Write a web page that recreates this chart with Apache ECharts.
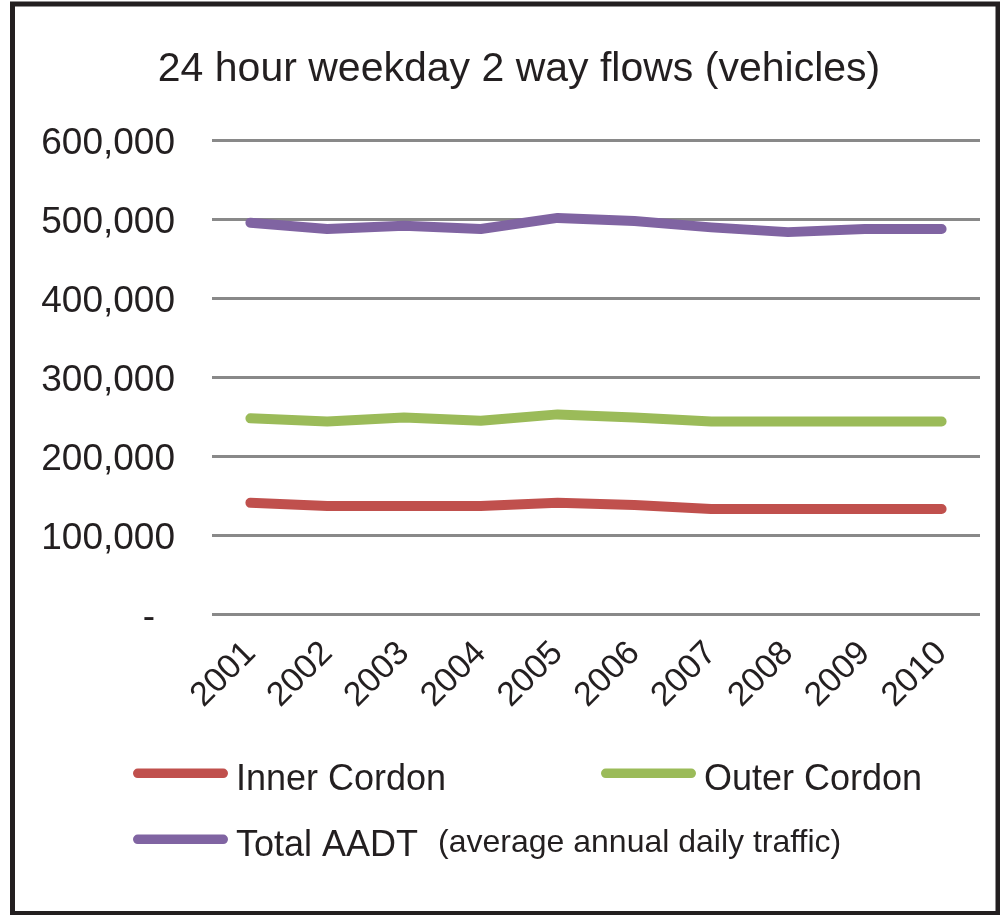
<!DOCTYPE html>
<html>
<head>
<meta charset="utf-8">
<script src="https://cdn.jsdelivr.net/npm/echarts@6/dist/echarts.min.js"></script>
<style>
  html, body { margin: 0; padding: 0; background: #fff; }
  #chart { width: 1000px; height: 915px; }
</style>
</head>
<body>
<div id="chart"></div>
<script>
// 年份与三条流量序列
var years = ['2001', '2002', '2003', '2004', '2005', '2006', '2007', '2008', '2009', '2010'];
var innerCordon = [141000, 137000, 137000, 137000, 141000, 138000, 133000, 133000, 133000, 133000];
var outerCordon = [248000, 244000, 249000, 245000, 253000, 249000, 244000, 244000, 244000, 244000];
var totalAADT = [496000, 488000, 492000, 488000, 502000, 498000, 490000, 484000, 488000, 488000];
var yTicks = [0, 100000, 200000, 300000, 400000, 500000, 600000];

var FONT = "'Liberation Sans', Arial, sans-serif";
var INK = '#231f20';

var chart = echarts.init(document.getElementById('chart'));

// 图例线条：上方 10px 圆头线，下方留空让线条比文字中心略高
var LEGEND_ICON = 'path://M5,0 H95 A5,5 0 0 1 95,10 H5 A5,5 0 0 1 5,0 Z M50,23.9 L50,24';

function legendBox(name, left, top, formatter) {
    return {
        data: [name],
        left: left,
        top: top,
        orient: 'horizontal',
        icon: LEGEND_ICON,
        itemWidth: 95,
        itemHeight: 24,
        selectedMode: false,
        formatter: formatter,
        textStyle: {
            fontFamily: FONT,
            fontSize: 36,
            color: INK,
            padding: [0, 0, 0, 3],
            rich: {
                small: { fontFamily: FONT, fontSize: 32, color: INK, padding: [0, 0, 6, 0] }
            }
        }
    };
}

var option = {
    backgroundColor: '#fff',
    animation: false,
    title: {
        text: '24 hour weekday 2 way flows (vehicles)',
        left: 514,
        top: 44,
        textAlign: 'center',
        textStyle: { fontFamily: FONT, fontSize: 41, fontWeight: 'normal', color: INK }
    },
    graphic: [{
        type: 'rect',
        shape: { x: 12.5, y: 4, width: 985.5, height: 909.5 },
        style: { fill: 'none', stroke: INK, lineWidth: 5 },
        silent: true
    }],
    legend: [
        legendBox('Inner Cordon', 128, 757),
        legendBox('Outer Cordon', 596, 757),
        legendBox('Total AADT', 128, 822, function (n) {
            return n + '  {small|(average annual daily traffic)}';
        })
    ],
    grid: { left: 212, right: 20, top: 140.6, bottom: 301, containLabel: false },
    xAxis: {
        type: 'category',
        data: years,
        boundaryGap: true,
        axisLine: { show: false },
        axisTick: { show: false },
        axisLabel: {
            rotate: 45,
            margin: 34,
            interval: 0,
            fontFamily: FONT,
            fontSize: 34,
            color: INK
        }
    },
    yAxis: {
        type: 'value',
        min: yTicks[0],
        max: yTicks[yTicks.length - 1],
        interval: 100000,
        axisLine: { show: false },
        axisTick: { show: false },
        splitLine: { lineStyle: { color: '#898989', width: 3 } },
        axisLabel: {
            margin: 37,
            fontFamily: FONT,
            fontSize: 37,
            color: INK,
            padding: [7, 0, 0, 0],
            formatter: function (v) {
                if (v === 0) return '{d|-}';
                return v.toLocaleString('en-US');
            },
            rich: {
                d: { fontFamily: FONT, fontSize: 37, color: INK, padding: [0, 20, 0, 0] }
            }
        }
    },
    series: [
        {
            name: 'Inner Cordon', type: 'line', data: innerCordon,
            symbol: 'none', color: '#C0504D',
            lineStyle: { width: 10, cap: 'round', join: 'round' }
        },
        {
            name: 'Outer Cordon', type: 'line', data: outerCordon,
            symbol: 'none', color: '#9BBB59',
            lineStyle: { width: 10, cap: 'round', join: 'round' }
        },
        {
            name: 'Total AADT', type: 'line', data: totalAADT,
            symbol: 'none', color: '#8064A2',
            lineStyle: { width: 10, cap: 'round', join: 'round' }
        }
    ]
};

chart.setOption(option);
</script>
</body>
</html>
